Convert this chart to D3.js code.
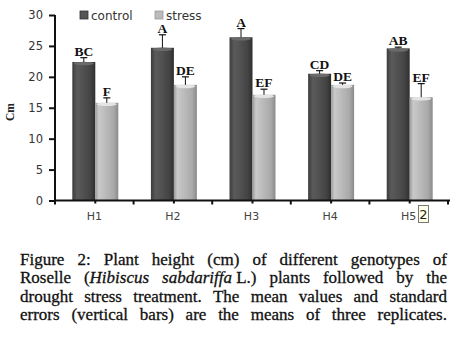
<!DOCTYPE html>
<html><head><meta charset="utf-8">
<script src="https://cdn.jsdelivr.net/npm/d3@7"></script>
<style>html,body{margin:0;padding:0;background:#fff;}svg{display:block;}</style>
</head><body>
<svg id="c" width="461" height="341"></svg>
<script>
const categories = ["H1","H2","H3","H4","H5"];
const series = ["control","stress"];
const controlValues = [22.4, 24.7, 26.4, 20.5, 24.6];
const stressValues  = [15.8, 18.7, 17.1, 18.7, 16.7];
const controlErrors = [0.7, 2.1, 1.4, 0.5, 0.2];
const stressErrors  = [0.8, 1.3, 0.9, 0.3, 2.2];
const controlLetters = ["BC","A","A","CD","AB"];
const stressLetters  = ["F","DE","EF","DE","EF"];
const yTicks = [0,5,10,15,20,25,30];
const captionLines = [
  [["Figure"],["2:"],["Plant"],["height"],["(cm)"],["of"],["different"],["genotypes"],["of"]],
  [["Roselle"],["(",["Hibiscus"]],[["sabdariffa"],"\u00a0L.)"],["plants"],["followed"],["by"],["the"]],
  [["drought"],["stress"],["treatment."],["The"],["mean"],["values"],["and"],["standard"]],
  [["errors"],["(vertical"],["bars)"],["are"],["the"],["means"],["of"],["three"],["replicates."]]
];

const svg = d3.select("#c");
const defs = svg.append("defs");
function grad(id, stops){
  const g = defs.append("linearGradient").attr("id", id).attr("x1","0").attr("x2","1").attr("y1","0").attr("y2","0");
  stops.forEach(s => g.append("stop").attr("offset", s[0]).attr("stop-color", s[1]));
}
grad("gc", [[0,"#3c3c3c"],[0.2,"#5a5a5a"],[0.45,"#525252"],[0.8,"#434343"],[1,"#2e2e2e"]]);
grad("gs", [[0,"#9a9a9a"],[0.15,"#c9c9c9"],[0.4,"#bdbdbd"],[0.8,"#a9a9a9"],[1,"#8a8a8a"]]);
const fills = {control:"url(#gc)", stress:"url(#gs)"};
const capFill = {control:"#6a6a6a", stress:"#e4e4e4"};

const x = d3.scaleBand().domain(categories).range([55, 448]).paddingInner(0).paddingOuter(0);
const xs = d3.scaleBand().domain(series).range([0, x.bandwidth()]).paddingInner(0).paddingOuter(0.71);
const y = d3.scaleLinear().domain([0,30]).range([200.5, 15]);

const data = [];
categories.forEach((c,i) => {
  data.push({cat:c, s:"control", v:controlValues[i], e:controlErrors[i], l:controlLetters[i]});
  data.push({cat:c, s:"stress", v:stressValues[i], e:stressErrors[i], l:stressLetters[i]});
});

const bw = xs.bandwidth();
const g = svg.append("g");
data.forEach(d => {
  const x0 = x(d.cat) + xs(d.s) + 1;
  g.append("rect").attr("x", x0).attr("y", y(d.v)).attr("width", bw).attr("height", y(0)-y(d.v))
    .attr("fill", fills[d.s]);
  g.append("ellipse").attr("cx", x0 + bw/2).attr("cy", y(d.v)+1.5).attr("rx", bw/2 - 1.5).attr("ry", 1.8)
    .attr("fill", capFill[d.s]);
  const cx = x0 + bw/2;
  g.append("line").attr("x1", cx).attr("x2", cx).attr("y1", y(d.v)).attr("y2", y(d.v + d.e))
    .attr("stroke", "#111").attr("stroke-width", 1);
  g.append("line").attr("x1", cx-3.5).attr("x2", cx+3.5).attr("y1", y(d.v+d.e)).attr("y2", y(d.v+d.e))
    .attr("stroke", "#111").attr("stroke-width", 1.2);
  g.append("text").attr("x", cx).attr("y", y(d.v+d.e) - 2).attr("text-anchor","middle")
    .attr("font-family","'Liberation Serif', serif").attr("font-weight","bold").attr("font-size", 13.5)
    .attr("fill","#111").text(d.l);
});

const yAxis = d3.axisLeft(y).tickValues(yTicks).tickSize(6).tickPadding(6);
const ya = svg.append("g").attr("transform","translate(55,0)").call(yAxis);
ya.select(".domain").attr("stroke","#111").attr("stroke-width",2).attr("d", `M0,${y(30)}V${y(0)}`);
ya.selectAll(".tick line").attr("stroke","#111").attr("stroke-width",2);
ya.selectAll(".tick text").attr("font-family","'DejaVu Sans', sans-serif").attr("font-size",11.5).attr("fill","#333");

const xAxis = d3.axisBottom(x).tickSize(0).tickPadding(12);
const xa = svg.append("g").attr("transform",`translate(0,${y(0)})`).call(xAxis);
xa.select(".domain").attr("stroke","#111").attr("stroke-width",2).attr("d","M55,0H450");
xa.selectAll(".tick text").attr("font-family","'DejaVu Sans', sans-serif").attr("font-size",11).attr("fill","#444");
const bounds = categories.map(c => x(c)).concat([x(categories[4]) + x.bandwidth()]);
bounds.forEach(b => xa.append("line").attr("x1",b).attr("x2",b).attr("y1",0).attr("y2",4).attr("stroke","#111").attr("stroke-width",2));
categories.forEach(c => { const m = x(c)+x.bandwidth()/2+1; xa.append("line").attr("x1",m).attr("x2",m).attr("y1",0).attr("y2",3).attr("stroke","#111").attr("stroke-width",2); });

svg.append("text").attr("transform","translate(14,112) rotate(-90)").attr("text-anchor","middle")
  .attr("font-family","'Liberation Serif', serif").attr("font-weight","bold").attr("font-size",11.5).attr("fill","#222").text("Cm");

const leg = [{s:"control", x:80, c:"#555"},{s:"stress", x:155, c:"#bbb"}];
leg.forEach(l => {
  svg.append("rect").attr("x",l.x).attr("y",11).attr("width",8).attr("height",8).attr("fill",l.c).attr("stroke", l.s==="control"?"#333":"#999").attr("stroke-width",0.8);
  svg.append("text").attr("x",l.x+11).attr("y",19.5).attr("font-family","'DejaVu Sans', sans-serif").attr("font-size",12).attr("fill","#333").text(l.s);
});

svg.append("rect").attr("x",418.5).attr("y",205.5).attr("width",10).attr("height",17).attr("fill","#ffffe6").attr("stroke","#777").attr("stroke-width",1);
svg.append("text").attr("x",423.5).attr("y",219).attr("text-anchor","middle").attr("font-family","'DejaVu Sans', sans-serif").attr("font-size",13).attr("fill","#222").text("2");

const cap = svg.append("g").attr("font-family","'Liberation Serif', serif").attr("font-size",17).attr("fill","#111")
  .attr("stroke","#111").attr("stroke-width",0.3);
const left = 20, right = 447;
captionLines.forEach((words, li) => {
  const by = 265 + li*18.4;
  const nodes = words.map(w => {
    const t = cap.append("text").attr("y", by);
    w.forEach(part => {
      if (Array.isArray(part)) t.append("tspan").attr("font-style","italic").text(part[0]);
      else t.append("tspan").text(part);
    });
    return t;
  });
  const widths = nodes.map(n => n.node().getComputedTextLength());
  const total = d3.sum(widths);
  const gap = (right - left - total) / (nodes.length - 1);
  let cx = left;
  nodes.forEach((n,i) => { n.attr("x", cx); cx += widths[i] + gap; });
});
</script>
</body></html>
